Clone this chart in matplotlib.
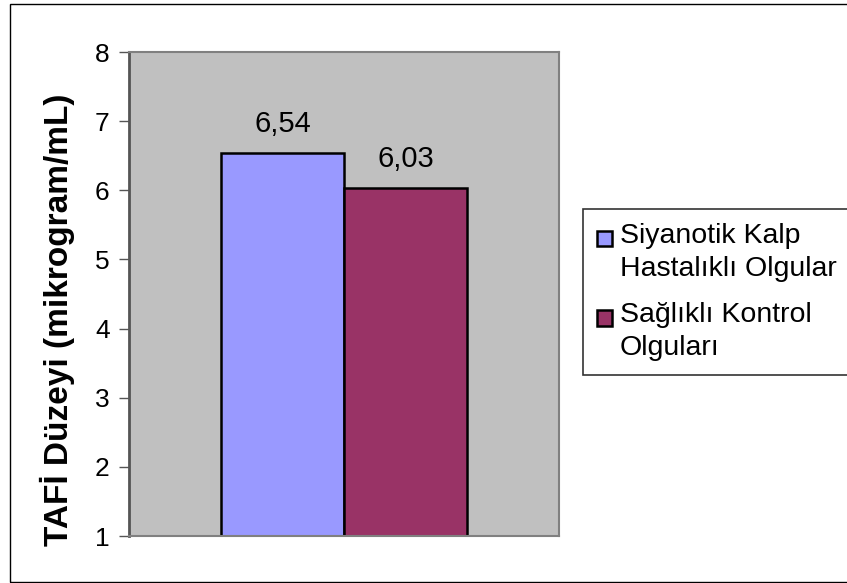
import matplotlib.pyplot as plt
from matplotlib.patches import Rectangle
from matplotlib.container import BarContainer
from matplotlib.legend_handler import HandlerPatch

# TAFI levels for the two groups
groups = ['Siyanotik Kalp\nHastalıklı Olgular', 'Sağlıklı Kontrol\nOlguları']
values = [6.54, 6.03]
value_labels = ['6,54', '6,03']
colors = ['#9999FF', '#993366']
y_ticks = [1, 2, 3, 4, 5, 6, 7, 8]

plt.rcParams['font.family'] = ['Liberation Sans', 'DejaVu Sans']

W, H = 847, 583
fig = plt.figure(figsize=(W / 100, H / 100), dpi=100)

# outer chart frame
fig.patches.append(Rectangle((10 / W, 1 / H), 1.0, 578 / H, transform=fig.transFigure,
                             fill=False, edgecolor='black', linewidth=1.0, clip_on=False))

ax = fig.add_axes([129 / W, (H - 536) / H, (559 - 129) / W, (536 - 52) / H])
ax.set_facecolor('#C0C0C0')

base = 1
bar_w = 0.286
xpos = [-bar_w / 2, bar_w / 2]
for x, v, c, g, lab in zip(xpos, values, colors, groups, value_labels):
    ax.bar(x, v - base, bottom=base, width=bar_w, color=c, edgecolor='black',
           linewidth=1.8, label=g)
    ax.text(x, v + 0.31, lab, ha='center', va='baseline', fontsize=21)

ax.set_xlim(-0.5, 0.5)
ax.set_ylim(1, 8)
ax.set_yticks(y_ticks)
ax.set_yticklabels([str(t) for t in y_ticks], fontsize=19)
ax.set_xticks([])
ax.tick_params(axis='y', direction='out', length=7, width=1, color='#555555', pad=7)
for s in ax.spines.values():
    s.set_color('#808080')
    s.set_linewidth(1.5)
ax.spines['left'].set_color('#555555')
ax.spines['left'].set_linewidth(2)

ax.set_ylabel('TAFİ Düzeyi (mikrogram/mL)', fontsize=24, fontweight='bold')
ax.yaxis.set_label_coords(-0.126, 0.446)

leg_fs = 20.5


# put the colour square next to the first line of each two-line label
def first_line_square(legend, orig_handle, xdescent, ydescent, width, height, fontsize):
    return Rectangle((-xdescent, -ydescent + 0.5 * fontsize), width, width)


def copy_bar_style(legend_handle, orig_handle):
    legend_handle.update_from(orig_handle[0])


handles, labels = ax.get_legend_handles_labels()
leg = fig.legend(handles, labels, loc='upper left', bbox_to_anchor=(583 / W, 1 - 209 / H),
                 fontsize=leg_fs, frameon=True, fancybox=False, edgecolor='black',
                 handlelength=0.54, handleheight=0.54, handletextpad=0.28,
                 borderpad=0.48, labelspacing=0.72, borderaxespad=0,
                 handler_map={BarContainer: HandlerPatch(patch_func=first_line_square,
                                                         update_func=copy_bar_style)})
leg.get_frame().set_linewidth(1.2)
for t in leg.get_texts():
    t.set_linespacing(1.35)

fig.savefig('out.png', dpi=100)
